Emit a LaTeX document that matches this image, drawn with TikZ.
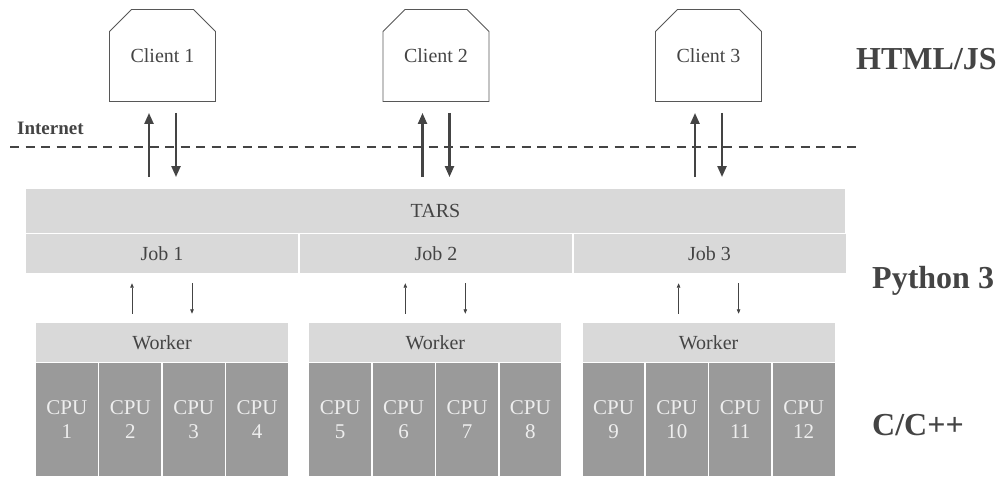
\documentclass[tikz,border=0pt]{standalone}
\usepackage{fontspec}
\setmainfont{Liberation Serif}
\usepackage{tikz}
\usetikzlibrary{arrows.meta,shapes.misc,calc}
\definecolor{ink}{HTML}{444444}
\definecolor{barfill}{HTML}{D9D9D9}
\definecolor{cpufill}{HTML}{9A9A9A}
\definecolor{cputext}{HTML}{EEEEEE}

\begin{document}
\begin{tikzpicture}[x=1pt,y=-1pt,
  client/.style={chamfered rectangle,chamfered rectangle corners={north west,north east},
    chamfered rectangle xsep=15pt,chamfered rectangle ysep=15pt,draw=ink!90,line width=0.9pt,
    minimum width=106pt,minimum height=92pt,inner sep=0pt,text=ink,font=\fontsize{20}{24}\selectfont},
  bar/.style={fill=barfill,minimum height=39pt,inner sep=0pt,text=ink,font=\fontsize{20}{24}\selectfont},
  cpu/.style={fill=cpufill,minimum width=61.8pt,minimum height=113pt,inner sep=0pt,text=cputext,
    align=center,font=\fontsize{21}{24}\selectfont},
  layer/.style={anchor=base west,inner sep=0pt,text=ink,font=\bfseries\fontsize{32}{38}\selectfont},
  bigarr/.style={draw=ink,line width=2.2pt,-{Triangle[length=11pt,width=9pt]}},
  smallarr/.style={draw=ink,line width=0.8pt,-{Triangle[length=4.5pt,width=3.5pt]}}]
\useasboundingbox (0,0) rectangle (1008,476);

% clients
\foreach \i/\x in {1/162.5,2/436,3/708.5}
  \node[client] (c\i) at (\x,55.5) {\raisebox{-4pt}{Client \i}};

% internet line
\coordinate (netL) at (10,146.7);
\coordinate (netR) at (862,146.7);
\draw[ink,line width=2pt,dash pattern=on 9.3pt off 6.2pt] (netL) -- (netR);
\node[anchor=base west,inner sep=0pt,text=ink,font=\bfseries\fontsize{19}{22}\selectfont] (net) at (17,135) {Internet};

% TARS and jobs
\node[bar,minimum width=819pt,minimum height=43.5pt] (tars) at (435.5,211) {TARS};
\foreach \i/\x in {1/162,2/436,3/709.5}
  \node[bar,minimum width=272pt] (j\i) at (\x,253.5) {Job \i};

% workers and cpus
\foreach \k in {0,1,2}{
  \pgfmathtruncatemacro{\w}{\k+1}
  \node[bar,minimum width=252pt] (w\w) at (162+273.3*\k,342.5) {Worker};
  \foreach \j in {1,...,4}{
    \pgfmathtruncatemacro{\n}{4*\k+\j}
    \node[cpu] (cpu\n) at (36+273.3*\k+30.9+63.4*\j-63.4,419.5) {CPU\\\n};
  }
}

% arrows
\foreach \i in {1,2,3}{
  \draw[bigarr,shorten <=12pt,shorten >=11pt] ($(tars.north -| c\i)+(-13.5,0)$) -- ($(c\i.south)+(-13.5,0)$);
  \draw[bigarr,shorten <=11pt,shorten >=12pt] ($(c\i.south)+(13.5,0)$) -- ($(tars.north -| c\i)+(13.5,0)$);
  \draw[smallarr,shorten <=9pt,shorten >=10pt] ($(w\i.north)+(-30,0)$) -- ($(j\i.south -| w\i)+(-30,0)$);
  \draw[smallarr,shorten <=10pt,shorten >=9pt] ($(j\i.south -| w\i)+(30,0)$) -- ($(w\i.north)+(30,0)$);
}

% layers
\node[layer] (html) at (856,70) {HTML/JS};
\node[layer] (py) at (872,288) {Python 3};
\node[layer] (cc) at (872,435) {C/C++};
\end{tikzpicture}
\end{document}
